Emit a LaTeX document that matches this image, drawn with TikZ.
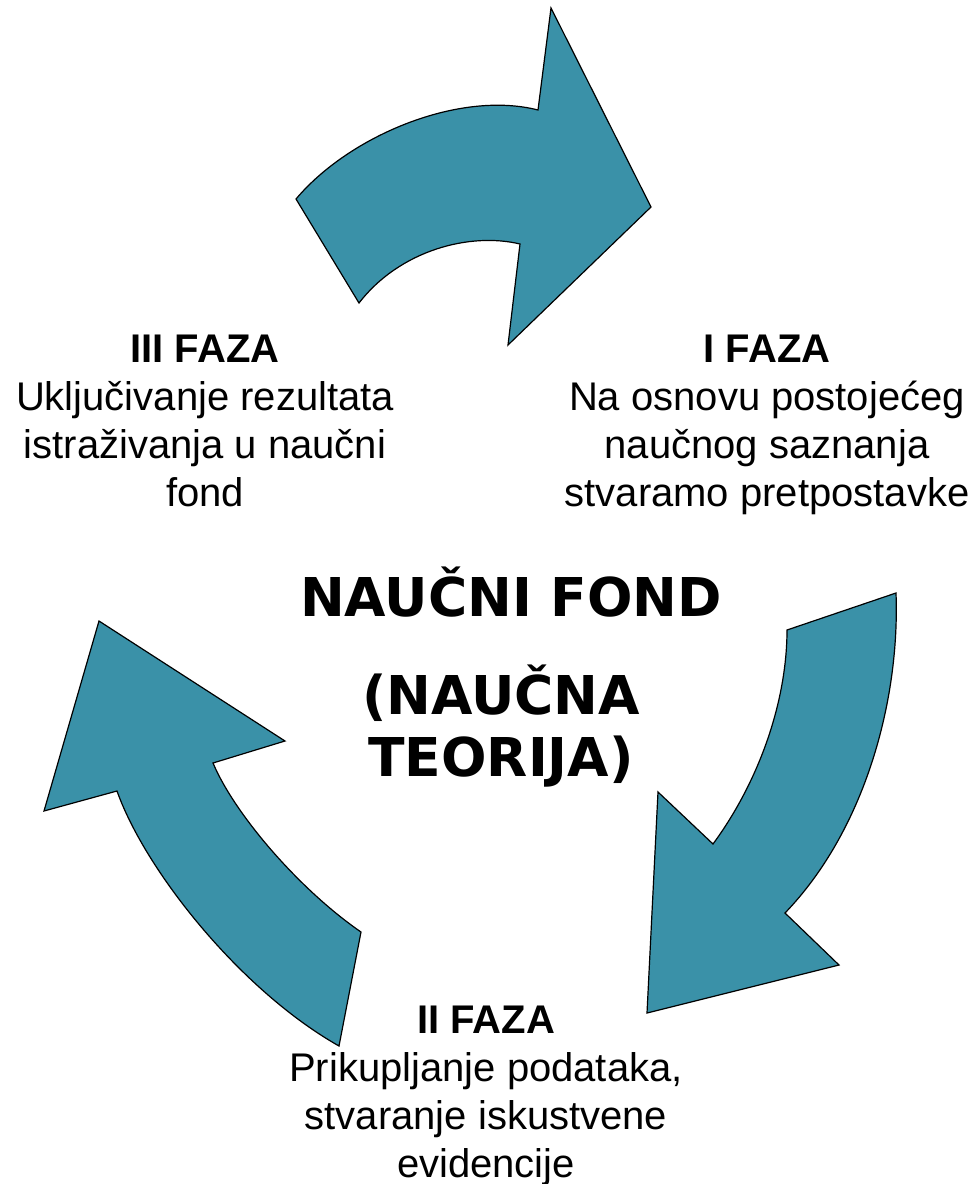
\documentclass[tikz,border=0pt]{standalone}
\usepackage{fontspec}
\setmainfont{Liberation Sans}
\newfontfamily\centerfont{DejaVu Sans}
\definecolor{tealarrow}{HTML}{3A91A8}
\begin{document}
\begin{tikzpicture}[x=1pt,y=-1pt,
  cyclearrow/.style={fill=tealarrow,draw=black,line width=1.2pt,line join=miter},
  phase/.style={align=center,inner sep=0pt,anchor=north,font=\fontsize{40}{48}\selectfont},
  centertext/.style={align=center,inner sep=0pt,anchor=north,font=\centerfont\bfseries\fontsize{53.5}{62}\selectfont}]
\useasboundingbox (0,0) rectangle (974,1184);
% top arrow
\draw[cyclearrow] (296,199) .. controls (350,135) and (460,90) .. (538,110)
  -- (551,8) -- (651,207) -- (508,345) -- (520,244)
  .. controls (470,232) and (400,250) .. (359,303) -- cycle;
% right arrow
\draw[cyclearrow] (787,630) -- (896,593)
  .. controls (900,700) and (865,830) .. (785,913)
  -- (839,965) -- (647,1013) -- (658,792) -- (713,844)
  .. controls (760,780) and (787,700) .. (787,630) -- cycle;
% left arrow
\draw[cyclearrow] (339,1046) .. controls (240,990) and (145,870) .. (117,791)
  -- (44,811) -- (99,621) -- (285,741) -- (213,763)
  .. controls (235,815) and (300,890) .. (361,932) -- cycle;
% labels
\node[phase] (p1) at (767,335) {\textbf{I FAZA}\\Na osnovu postojećeg\\naučnog saznanja\\stvaramo pretpostavke};
\node[phase] (p3) at (205,335) {\textbf{III FAZA}\\Uključivanje rezultata\\istraživanja u naučni\\fond};
\node[phase] (p2) at (486,1006) {\textbf{II FAZA}\\Prikupljanje podataka,\\stvaranje iskustvene\\evidencije};
\node[centertext] (c1) at (511,567) {NAUČNI FOND};
\node[centertext] (c2) at (501,665) {(NAUČNA\\TEORIJA)};
\end{tikzpicture}
\end{document}
